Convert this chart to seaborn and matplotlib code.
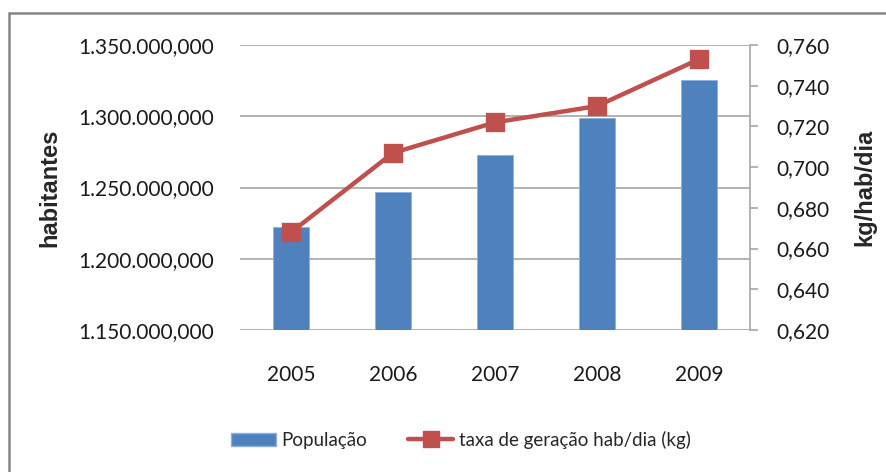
import matplotlib
matplotlib.use("Agg")
import matplotlib.pyplot as plt
import seaborn as sns
import pandas as pd
from matplotlib.patches import Patch, Rectangle
from matplotlib.lines import Line2D
from matplotlib.ticker import FuncFormatter, MultipleLocator

# data (axis labels read 1.350.000,000 etc.)
anos = ["2005", "2006", "2007", "2008", "2009"]
populacao = [1222100, 1247100, 1272600, 1298800, 1325200]
taxa_kg = [0.668, 0.707, 0.722, 0.730, 0.753]

cor_barra = "#4F81BD"
cor_linha = "#C0504D"
cor_grade = "#A6A6A6"

sns.set_theme(style="white")
plt.rcParams['font.family'] = ['Lato', 'DejaVu Sans']


def fmt_pt(v, casas):
    # 1234567.5 -> 1.234.567,500
    s = f"{v:,.{casas}f}"
    return s.replace(",", "X").replace(".", ",").replace("X", ".")


df = pd.DataFrame({"ano": anos, "populacao": populacao, "taxa": taxa_kg})

fig = plt.figure(figsize=(8.86, 4.72), dpi=100)
ax = fig.add_axes([240 / 886, 1 - 330 / 472, 510 / 886, 285 / 472])

sns.barplot(data=df, x="ano", y="populacao", color=cor_barra, width=0.36,
            saturation=1, ax=ax, zorder=2)
for p in ax.patches:
    p.set_edgecolor("#8DB0DC")
    p.set_linewidth(0.6)

ax.set_ylim(1150000, 1350000)
ax.yaxis.set_major_locator(MultipleLocator(50000))
ax.yaxis.set_major_formatter(FuncFormatter(lambda v, _: fmt_pt(v, 3)))
ax.grid(axis="y", color=cor_grade, lw=1.2, zorder=0)
ax.set_axisbelow(True)
for s in ax.spines.values():
    s.set_visible(False)
ax.tick_params(axis="both", length=0, labelsize=15, colors="#1a1a1a")
ax.tick_params(axis="y", pad=19)
ax.tick_params(axis="x", pad=25)
ax.set_xlabel("")
ax.set_ylabel("habitantes", fontsize=17, fontweight="bold", labelpad=12,
              family=["Liberation Sans", "DejaVu Sans"])

ax2 = ax.twinx()
sns.pointplot(data=df, x="ano", y="taxa", color=cor_linha, markers="s",
              markersize=12, linewidth=3.2, ax=ax2, zorder=3)
ax2.set_xlim(-0.5, 4.5)
ax.set_xlim(-0.5, 4.5)
ax2.set_ylim(0.62, 0.76)
ax2.yaxis.set_major_locator(MultipleLocator(0.02))
ax2.yaxis.set_major_formatter(FuncFormatter(lambda v, _: fmt_pt(v, 3)))
for k, s in ax2.spines.items():
    s.set_visible(k == "right")
ax2.spines["right"].set_color(cor_grade)
ax2.spines["right"].set_linewidth(1.2)
ax2.tick_params(axis="y", right=True, length=6, width=1.2, color=cor_grade,
                labelsize=15, colors="#1a1a1a", pad=13)
ax2.set_xlabel("")
ax2.set_ylabel("kg/hab/dia", fontsize=17, fontweight="bold", labelpad=17,
               family=["Liberation Sans", "DejaVu Sans"])

# outer chart border
fig.patches.append(Rectangle((9 / 886, -0.1), 1.2, 0.1 + (472 - 13) / 472,
                             transform=fig.transFigure, fill=False,
                             edgecolor="#878787", lw=1.8))

handles = [Patch(facecolor=cor_barra, edgecolor="#8DB0DC"),
           Line2D([], [], color=cor_linha, lw=3.2, marker="s", markersize=11)]
fig.legend(handles, ["População", "taxa de geração hab/dia (kg)"],
           loc="center", bbox_to_anchor=(0.52, 1 - 440 / 472), ncol=2,
           frameon=False, fontsize=13.5, handlelength=2.4, columnspacing=2.2,
           handletextpad=0.3)

fig.savefig("out.png", dpi=100)
